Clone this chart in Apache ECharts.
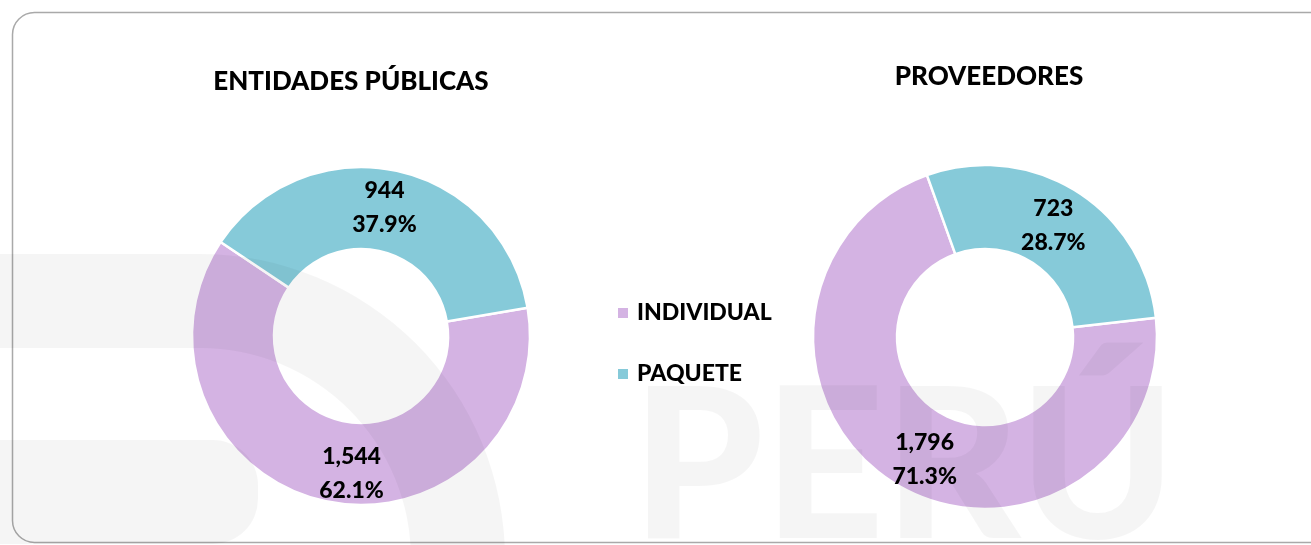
<!DOCTYPE html>
<html>
<head>
<meta charset="utf-8">
<script src="https://cdn.jsdelivr.net/npm/echarts@6/dist/echarts.min.js"></script>
<style>
  html, body { margin: 0; padding: 0; background: #fff; }
  #chart { width: 1311px; height: 545px; }
</style>
</head>
<body>
<div id="chart"></div>
<script>
// categorias y valores
const categorias = ['INDIVIDUAL', 'PAQUETE'];
const entidades = [1544, 944];
const proveedores = [1796, 723];
const titulos = ['ENTIDADES PÚBLICAS', 'PROVEEDORES'];
const colores = ['#D4B3E3', '#86CAD9'];

const FONT = 'Lato, "Open Sans", sans-serif';

function build_data(values, offsets) {
    let data = [];
    for (let i = 0; i < values.length; i++) {
        data.push({
            name: categorias[i],
            value: values[i],
            label: { offset: offsets[i] }
        });
    }
    return data;
}

function make_pie(values, center, radius, startAngle, offsets) {
    return {
        type: 'pie',
        center: center,
        radius: radius,
        startAngle: startAngle,
        clockwise: true,
        percentPrecision: 1,
        avoidLabelOverlap: false,
        silent: true,
        itemStyle: { borderColor: '#fff', borderWidth: 2.5 },
        label: {
            show: true,
            position: 'inside',
            color: '#000',
            fontFamily: FONT,
            fontWeight: 900,
            fontSize: 23,
            lineHeight: 34,
            formatter: function (p) {
                return p.value.toLocaleString('en-US') + '\n' + p.percent.toFixed(1) + '%';
            }
        },
        labelLine: { show: false },
        emphasis: { disabled: true },
        data: build_data(values, offsets)
    };
}

let myChart = echarts.init(document.getElementById('chart'));
const marca = 'rgba(0,0,0,0.04)';
let option = {
    backgroundColor: '#fff',
    animation: false,
    color: colores,
    title: [
        {
            text: titulos[0], left: 346, top: 64, textAlign: 'center',
            textStyle: { fontFamily: FONT, fontWeight: 900, fontSize: 26, color: '#000' }
        },
        {
            text: titulos[1], left: 984, top: 59, textAlign: 'center',
            textStyle: { fontFamily: FONT, fontWeight: 900, fontSize: 26, color: '#000' }
        }
    ],
    legend: {
        orient: 'vertical',
        left: 611,
        top: 296,
        icon: 'rect',
        itemWidth: 12,
        itemHeight: 12,
        itemGap: 37,
        selectedMode: false,
        data: categorias,
        textStyle: { fontFamily: FONT, fontWeight: 900, fontSize: 23, lineHeight: 24, color: '#000', padding: [0, 0, 0, 3] }
    },
    graphic: [
        // marco redondeado
        {
            type: 'rect', z: 1, silent: true,
            shape: { x: 12.5, y: 12.5, width: 1320, height: 530, r: 22 },
            style: { fill: 'none', stroke: '#a9a9a9', lineWidth: 1.5 }
        },
        // marca de agua: logo
        {
            type: 'rect', z: 10, silent: true,
            shape: { x: 0, y: 254, width: 200, height: 94 },
            style: { fill: marca }
        },
        {
            type: 'sector', z: 10, silent: true,
            shape: { cx: 200, cy: 559, r: 305, r0: 211, startAngle: -Math.PI / 2, endAngle: 0, clockwise: true },
            style: { fill: marca }
        },
        {
            type: 'rect', z: 10, silent: true,
            shape: { x: 0, y: 440, width: 258, height: 104, r: [0, 45, 45, 0] },
            style: { fill: marca }
        },
        // marca de agua: PERÚ
        {
            type: 'text', z: 10, silent: true,
            x: 632, y: 470,
            style: {
                text: 'PERÚ', fill: marca, font: '900 210px Lato, sans-serif',
                verticalAlign: 'middle', align: 'left'
            }
        }
    ],
    series: [
        make_pie(entidades, [361, 336], [87, 169], 9.6, [[18, 9], [-4, 0]]),
        make_pie(proveedores, [985, 337], [88, 172], 6.4, [[10, 10], [-2, 1]])
    ]
};
myChart.setOption(option);
</script>
</body>
</html>
